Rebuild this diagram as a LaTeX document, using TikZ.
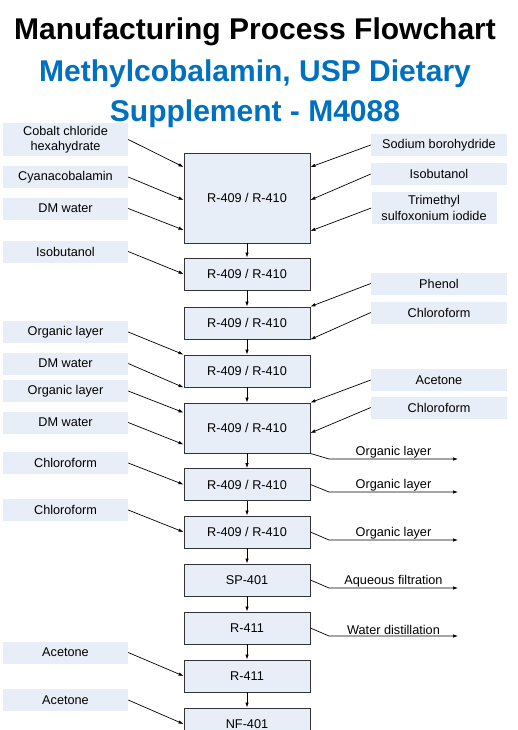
\documentclass[tikz,border=0pt]{standalone}
\usepackage{fontspec}
\setmainfont{Liberation Sans}
\usetikzlibrary{arrows.meta}
\definecolor{unitfill}{RGB}{232,238,247}
\definecolor{feedfill}{RGB}{232,238,247}
\definecolor{titleblue}{RGB}{0,112,192}
\begin{document}
\begin{tikzpicture}[x=1pt,y=-1pt,
  unit/.style={draw=black!80,fill=unitfill,line width=0.9pt,minimum width=126pt,
    minimum height=32pt,inner sep=0pt,font=\fontsize{12.7}{15}\selectfont},
  feed/.style={fill=feedfill,minimum width=125pt,minimum height=22pt,inner sep=0pt,
    align=center,font=\fontsize{12.7}{15.5}\selectfont},
  feedr/.style={feed,minimum width=136pt},
  flow/.style={line width=0.7pt,-{Latex[length=5pt,width=3.5pt]}},
  outtxt/.style={above,inner sep=1pt,font=\fontsize{12.7}{15}\selectfont},
  headline/.style={anchor=base,font=\fontsize{30}{36}\selectfont\bfseries}]
\useasboundingbox (0,0) rectangle (518,730);
\clip (0,0) rectangle (518,730);
\node[headline] (title) at (255,40) {Manufacturing Process Flowchart};
\node[headline,text=titleblue] (sub1) at (255,82) {Methylcobalamin, USP Dietary};
\node[headline,text=titleblue] (sub2) at (255,122) {Supplement - M4088};
\node[unit,minimum height=90pt] (r1) at (247,198) {R-409 / R-410};
\node[unit] (r2) at (247,274) {R-409 / R-410};
\node[unit] (r3) at (247,323) {R-409 / R-410};
\node[unit] (r4) at (247,371) {R-409 / R-410};
\node[unit,minimum height=50pt] (r5) at (247,428) {R-409 / R-410};
\node[unit] (r6) at (247,484.5) {R-409 / R-410};
\node[unit] (r7) at (247,532) {R-409 / R-410};
\node[unit] (sp) at (247,580) {SP-401};
\node[unit] (r8) at (247,628) {R-411};
\node[unit] (r9) at (247,676) {R-411};
\node[unit] (nf) at (247,724) {NF-401};
\foreach \a/\b in {r1/r2,r2/r3,r3/r4,r4/r5,r5/r6,r6/r7,r7/sp,sp/r8,r8/r9,r9/nf}
  \draw[flow] (\a.south) -- (\b.north);
\node[feed,minimum height=33pt] (f1) at (65.5,139.5) {Cobalt chloride\\hexahydrate};
\node[feed] (f2) at (65.5,177) {Cyanacobalamin};
\node[feed] (f3) at (65.5,208.5) {DM water};
\node[feed] (f4) at (65.5,251.5) {Isobutanol};
\node[feed] (f5) at (65.5,332) {Organic layer};
\node[feed] (f6) at (65.5,363.5) {DM water};
\node[feed] (f7) at (65.5,391) {Organic layer};
\node[feed] (f8) at (65.5,422.5) {DM water};
\node[feed] (f9) at (65.5,463) {Chloroform};
\node[feed] (f10) at (65.5,510) {Chloroform};
\node[feed] (f11) at (65.5,652.5) {Acetone};
\node[feed] (f12) at (65.5,700) {Acetone};
\node[feedr] (s1) at (439,145) {Sodium borohydride};
\node[feedr] (s2) at (439,174) {Isobutanol};
\node[feed,minimum height=32pt] (s3) at (434,208) {Trimethyl\\sulfoxonium iodide};
\node[feedr] (s4) at (439,283.5) {Phenol};
\node[feedr] (s5) at (439,312.5) {Chloroform};
\node[feedr] (s6) at (439,380) {Acetone};
\node[feedr] (s7) at (439,407.5) {Chloroform};
\draw[flow] (f1.east) -- ([yshift=31pt]r1.west);
\draw[flow] (f2.east) -- ([yshift=-2pt]r1.west);
\draw[flow] (f3.east) -- ([yshift=-32pt]r1.west);
\draw[flow] (f4.east) -- (r2.west);
\draw[flow] (f5.east) -- (r4.north west);
\draw[flow] (f6.east) -- (r4.south west);
\draw[flow] (f7.east) -- ([yshift=-10pt]r5.north west);
\draw[flow] (f8.east) -- ([yshift=9pt]r5.south west);
\draw[flow] (f9.east) -- (r6.west);
\draw[flow] (f10.east) -- (r7.west);
\draw[flow] (f11.east) -- (r9.west);
\draw[flow] (f12.east) -- (nf.west);
\draw[flow] (s1.west) -- ([yshift=31pt]r1.east);
\draw[flow] (s2.west) -- ([yshift=-2pt]r1.east);
\draw[flow] (s3.west) -- ([yshift=-33pt]r1.east);
\draw[flow] (s4.west) -- (r3.north east);
\draw[flow] (s5.west) -- (r3.south east);
\draw[flow] (s6.west) -- (r5.north east);
\draw[flow] (s7.west) -- ([yshift=-5pt]r5.east);
\coordinate (o1) at (458,459);
\coordinate (o2) at (458,492);
\coordinate (o3) at (458,540);
\coordinate (o4) at (458,588);
\coordinate (o5) at (458,636);
\draw[flow] (r5.south east) -- ([xshift=-129pt]o1) -- node[outtxt] {Organic layer} (o1);
\draw[flow] (r6.east) -- ([xshift=-129pt]o2) -- node[outtxt] {Organic layer} (o2);
\draw[flow] (r7.east) -- ([xshift=-129pt]o3) -- node[outtxt] {Organic layer} (o3);
\draw[flow] (sp.east) -- ([xshift=-129pt]o4) -- node[outtxt] {Aqueous filtration} (o4);
\draw[flow] (r8.east) -- ([xshift=-129pt]o5) -- node[outtxt] {Water distillation} (o5);
\end{tikzpicture}
\end{document}
